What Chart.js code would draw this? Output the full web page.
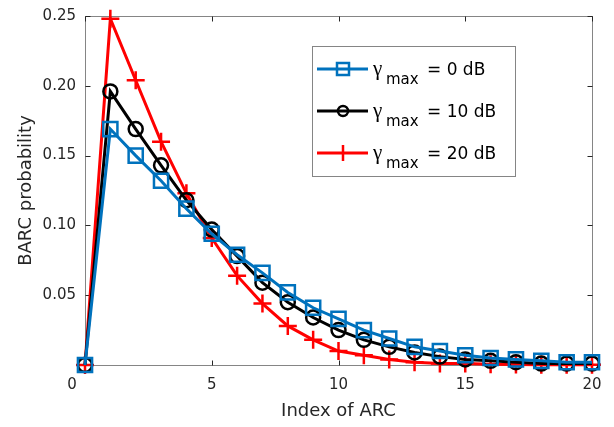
<!DOCTYPE html>
<html>
<head>
<meta charset="utf-8">
<script src="https://cdn.jsdelivr.net/npm/chart.js@4.4.0/dist/chart.umd.min.js"></script>
<style>
  html, body { margin: 0; padding: 0; background: #fff; }
  #wrap { width: 614px; height: 427px; }
</style>
</head>
<body>
<div id="wrap"><canvas id="arcChart" width="614" height="427"></canvas></div>
<script>
// index of ARC
var arcIndex = [0, 1, 2, 3, 4, 5, 6, 7, 8, 9, 10, 11, 12, 13, 14, 15, 16, 17, 18, 19, 20];

// BARC probability per gamma_max
var gamma0dB  = [0, 0.169, 0.150, 0.132, 0.112, 0.094, 0.079, 0.066, 0.052, 0.041, 0.033, 0.025, 0.019, 0.013, 0.010, 0.007, 0.005, 0.004, 0.003, 0.002, 0.002];
var gamma10dB = [0, 0.196, 0.169, 0.143, 0.118, 0.097, 0.078, 0.059, 0.045, 0.034, 0.025, 0.018, 0.013, 0.009, 0.006, 0.004, 0.003, 0.002, 0.001, 0.001, 0.001];
var gamma20dB = [0, 0.248, 0.204, 0.160, 0.123, 0.091, 0.064, 0.044, 0.028, 0.018, 0.010, 0.007, 0.004, 0.002, 0.001, 0.001, 0.0005, 0.0003, 0.0002, 0.0001, 0.0001];

var seriesNames = ['0 dB', '10 dB', '20 dB'];
var xTicks = [0, 5, 10, 15, 20];
var yTicks = [0, 0.05, 0.10, 0.15, 0.20, 0.25];

var FONT = '"DejaVu Sans", sans-serif';

function toPoints(ys) {
    return arcIndex.map(function (x, i) { return { x: x, y: ys[i] }; });
}

// box round the axes with inward ticks, like matlab
var axesBox = {
    id: 'axesBox',
    beforeDatasetsDraw: function (chart) {
        var ctx = chart.ctx, a = chart.chartArea;
        var xs = chart.scales.x, ys = chart.scales.y;
        var L = Math.round(a.left) + 0.5, R = Math.round(a.right) + 0.5;
        var T = Math.round(a.top) + 0.5, B = Math.round(a.bottom) + 0.5;
        ctx.save();
        ctx.strokeStyle = '#858585';
        ctx.lineWidth = 1;
        ctx.strokeRect(L, T, R - L, B - T);
        ctx.strokeStyle = '#262626';
        ctx.beginPath();
        xTicks.forEach(function (v) {
            var px = Math.round(xs.getPixelForValue(v)) + 0.5;
            ctx.moveTo(px, B); ctx.lineTo(px, B - 5);
            ctx.moveTo(px, T); ctx.lineTo(px, T + 5);
        });
        yTicks.forEach(function (v) {
            var py = Math.round(ys.getPixelForValue(v)) + 0.5;
            ctx.moveTo(L, py); ctx.lineTo(L + 5, py);
            ctx.moveTo(R, py); ctx.lineTo(R - 5, py);
        });
        ctx.stroke();
        // the 0 label sits a bit left of its tick in the original
        ctx.fillStyle = '#262626';
        ctx.font = '15px ' + FONT;
        ctx.textAlign = 'center';
        ctx.textBaseline = 'middle';
        ctx.fillText('0', xs.getPixelForValue(0) - 13, 385);
        ctx.restore();
    }
};

// legend with gamma_max subscript
var gammaLegend = {
    id: 'gammaLegend',
    afterDraw: function (chart) {
        var ctx = chart.ctx;
        var bx = 312.5, by = 46.5, bw = 203, bh = 130;
        ctx.save();
        ctx.fillStyle = '#fff';
        ctx.fillRect(bx, by, bw, bh);
        ctx.strokeStyle = '#858585';
        ctx.lineWidth = 1;
        ctx.strokeRect(bx, by, bw, bh);
        chart.data.datasets.forEach(function (ds, i) {
            var cy = 69 + i * 42;
            ctx.strokeStyle = ds.borderColor;
            ctx.lineWidth = ds.borderWidth;
            ctx.beginPath();
            ctx.moveTo(317, cy); ctx.lineTo(368, cy);
            ctx.stroke();
            ctx.lineWidth = ds.pointBorderWidth;
            ctx.beginPath();
            if (ds.pointStyle === 'rect') {
                ctx.rect(337, cy - 6, 12, 12);
            } else if (ds.pointStyle === 'circle') {
                ctx.arc(343, cy, 5, 0, Math.PI * 2);
            } else {
                ctx.moveTo(343, cy - 8); ctx.lineTo(343, cy + 8);
            }
            ctx.stroke();
            ctx.fillStyle = '#000';
            ctx.textBaseline = 'alphabetic';
            ctx.textAlign = 'left';
            ctx.font = '21px "Liberation Serif", serif';
            ctx.fillText('\u03b3', 373, cy + 6);
            ctx.font = '15px ' + FONT;
            ctx.fillText('max', 386, cy + 15);
            ctx.font = '17px ' + FONT;
            ctx.fillText('= ' + seriesNames[i], 427, cy + 6);
        });
        ctx.restore();
    }
};

var ctx = document.getElementById('arcChart').getContext('2d');

var arcChart = new Chart(ctx, {
    type: 'scatter',
    data: {
        datasets: [{
            label: seriesNames[0],
            data: toPoints(gamma0dB),
            showLine: true,
            borderColor: '#0072BD',
            backgroundColor: 'rgba(0,0,0,0)',
            borderWidth: 3,
            pointStyle: 'rect',
            pointRadius: 10,
            pointBorderWidth: 2.5,
            pointBackgroundColor: 'rgba(0,0,0,0)',
            clip: false
        }, {
            label: seriesNames[1],
            data: toPoints(gamma10dB),
            showLine: true,
            borderColor: '#000000',
            backgroundColor: 'rgba(0,0,0,0)',
            borderWidth: 3,
            pointStyle: 'circle',
            pointRadius: 7,
            pointBorderWidth: 2.5,
            pointBackgroundColor: 'rgba(0,0,0,0)',
            clip: false
        }, {
            label: seriesNames[2],
            data: toPoints(gamma20dB),
            showLine: true,
            borderColor: '#FF0000',
            backgroundColor: 'rgba(0,0,0,0)',
            borderWidth: 3,
            pointStyle: 'cross',
            pointRadius: 9,
            pointBorderWidth: 2.5,
            pointBackgroundColor: 'rgba(0,0,0,0)',
            clip: false
        }]
    },
    options: {
        responsive: false,
        animation: false,
        layout: { padding: { top: 16, right: 22, left: 0, bottom: 0 } },
        plugins: {
            legend: { display: false },
            tooltip: { enabled: false }
        },
        scales: {
            x: {
                type: 'linear',
                min: 0,
                max: 20,
                grid: { display: false },
                border: { display: false },
                afterBuildTicks: function (s) { s.ticks = xTicks.map(function (v) { return { value: v }; }); },
                afterFit: function (s) { s.height = 62; },
                ticks: {
                    color: '#262626',
                    font: { family: FONT, size: 15 },
                    padding: 3,
                    maxRotation: 0,
                    callback: function (v) { return v === 0 ? '' : String(v); }
                },
                title: {
                    display: true,
                    text: 'Index of ARC',
                    color: '#262626',
                    font: { family: FONT, size: 18 },
                    padding: { top: 0, bottom: 5 }
                }
            },
            y: {
                min: 0,
                max: 0.25,
                grid: { display: false },
                border: { display: false },
                afterBuildTicks: function (s) { s.ticks = yTicks.map(function (v) { return { value: v }; }); },
                afterFit: function (s) { s.width = 85; },
                ticks: {
                    color: '#262626',
                    font: { family: FONT, size: 15 },
                    padding: 1,
                    callback: function (v) { return v === 0 ? '' : v.toFixed(2); }
                },
                title: {
                    display: true,
                    text: 'BARC probability',
                    color: '#262626',
                    font: { family: FONT, size: 18 },
                    padding: { top: 16, bottom: 0 }
                }
            }
        }
    },
    plugins: [axesBox, gammaLegend]
});
</script>
</body>
</html>
